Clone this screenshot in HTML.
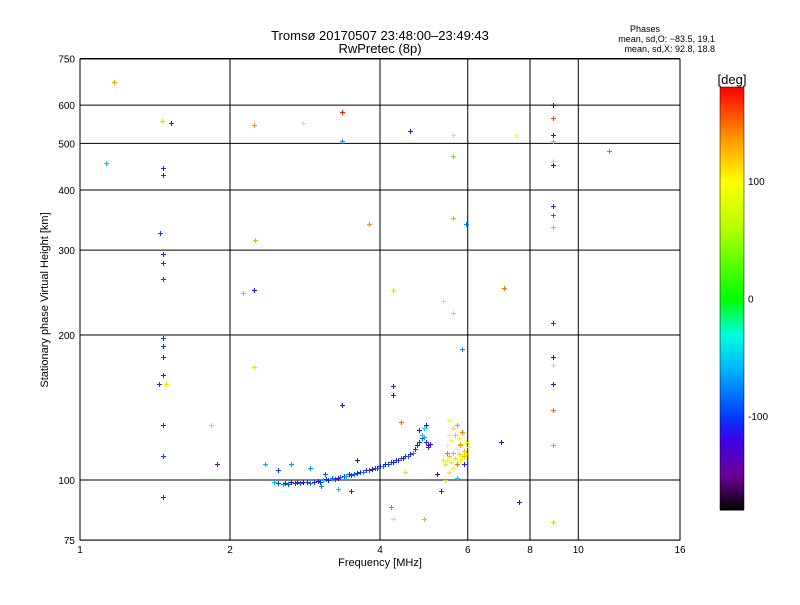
<!DOCTYPE html>
<html><head><meta charset="utf-8"><style>
body{margin:0;background:#fff;font-family:"Liberation Sans",sans-serif}
svg text{font-family:"Liberation Sans",sans-serif;fill:#000}
</style></head><body>
<svg id="chart" width="800" height="600" xmlns="http://www.w3.org/2000/svg">
<rect width="800" height="600" fill="#fff"/>
<text x="380" y="40" font-size="13" text-anchor="middle">Tromsø 20170507 23:48:00–23:49:43</text>
<text x="380" y="53" font-size="13" text-anchor="middle">RwPretec (8p)</text>
<text x="645" y="32" font-size="9" text-anchor="middle">Phases</text>
<text x="715" y="42" font-size="9" text-anchor="end">mean, sd,O: −83.5, 19.1</text>
<text x="715" y="52" font-size="9" text-anchor="end">mean, sd,X:  92.8, 18.8</text>
<text x="380" y="566" font-size="11" text-anchor="middle">Frequency [MHz]</text>
<text x="48" y="300" font-size="11" text-anchor="middle" transform="rotate(-90 48 300)">Stationary phase Virtual Height [km]</text>
<g id="grid"></g><g id="pts" shape-rendering="crispEdges"></g><g id="cbar"></g>
</svg>
<script>
const xTicks=[1,2,4,6,8,10,16];
const yTicks=[75,100,200,300,400,500,600,750];
const cTicks=[100,0,-100];
// [frequency MHz, height km, phase deg]
const freqs=[1.17,1.13,1.46,1.52,1.47,1.47,1.45,1.47,1.47,1.47,1.47,1.47,1.47,1.47,1.44,1.49,1.47,1.47,1.47,1.88,1.83,2.12,2.23,2.23,2.25,2.23,2.8,3.35,3.35,3.35,3.8,4.25,4.25,4.25,4.4,4.2,4.25,4.6,4.9,5.35,5.6,5.6,5.6,5.6,5.95,5.85,7.1,7.0,7.6,7.5,8.9,8.9,8.9,8.9,8.9,8.9,8.9,8.9,8.9,8.9,8.9,8.9,8.9,8.9,8.9,8.9,11.5,
2.45,2.5,2.55,2.58,2.62,2.65,2.7,2.72,2.76,2.8,2.85,2.9,2.95,3.0,3.03,3.08,3.12,3.15,3.2,3.25,3.3,3.33,3.38,3.42,3.46,3.5,3.55,3.6,3.64,3.7,3.75,3.8,3.85,3.9,3.95,4.0,4.05,4.1,4.15,4.2,4.25,4.3,4.35,4.4,4.45,4.5,4.55,4.6,4.65,4.7,4.75,4.8,4.85,4.9,4.95,5.0,4.9,4.95,5.0,4.85,4.8,5.05,2.35,2.5,2.65,3.05,3.3,3.5,3.1,2.9,3.6,4.5,
5.4,5.45,5.5,5.55,5.6,5.65,5.7,5.75,5.8,5.85,5.9,5.95,6.0,5.5,5.6,5.7,5.8,5.9,5.45,5.55,5.65,5.75,5.85,5.95,5.4,5.5,5.6,5.7,5.35,5.5,5.8,5.3,5.2,5.7,5.9,5.45];
const heights=[670,455,556,552,445,430,325,295,282,262,197,190,180,165,158,158,130,112,92,108,130,245,248,545,315,172,552,580,505,143,340,248,157,150,132,88,83,530,83,235,520,470,350,222,340,187,250,120,90,520,600,565,520,505,460,450,370,355,335,212,180,173,158,140,118,82,482,
99,98.5,98,98.5,98,99,98.5,99,98.5,99,99,98.5,99,99.5,99,100,100.5,100,101,100.5,101,101.5,102,102,103,102.5,103,103.5,104,104,105,105,105.5,106,106,107,107,108,108,109,109,110,110,111,111,112,112,113,114,116,118,120,122,123,120,117,128,130,118,124,127,119,108,105,108,97,96,95,103,106,110,104,
108,110,112,109,114,111,116,113,118,112,115,120,117,104,106,108,110,112,118,121,124,122,126,113,100,124,128,130,110,133,119,95,103,101,108,114];
const phases=[130,-50,60,-110,-110,-110,-100,-110,-100,-100,-100,-100,-100,-110,-100,110,-100,-100,-100,-150,120,130,-120,140,130,115,110,175,-70,-120,140,60,-110,-150,150,150,110,-110,130,80,110,30,130,50,-80,-70,150,-120,-150,100,-140,160,-110,130,110,-120,-100,170,130,-100,-150,60,-130,150,-40,120,-60,
-60,-100,-70,-110,-90,-120,-100,-110,-90,-130,-100,-80,-110,-120,-100,-60,-100,-110,-80,-100,-120,-90,-100,-70,-110,-100,-90,-120,-100,-80,-110,-100,-130,-90,-100,-110,-80,-120,-100,-90,-130,-100,-110,-80,-120,-100,-90,-110,-70,-100,-120,-100,-90,-60,-110,-100,-40,-120,-110,-50,-130,-140,-60,-100,-70,-80,-50,-110,-90,-70,-130,70,
110,100,120,105,130,110,95,115,140,100,120,105,90,110,100,150,105,125,100,90,120,100,145,110,120,95,110,140,105,100,130,-110,-120,-50,-110,150];
const X0=80,X1=680,Y0=59,Y1=540;
const xs=f=>X0+Math.log2(f)*150;
const ys=h=>480-Math.log2(h/100)*145;
const NS='http://www.w3.org/2000/svg';
function mk(t,a,p){const e=document.createElementNS(NS,t);for(const k in a)e.setAttribute(k,a[k]);p.appendChild(e);return e;}
const stops=[[-180,0,0,0],[-150,110,0,150],[-120,60,0,230],[-100,0,60,255],[-60,0,180,255],[-30,0,255,220],[0,0,255,0],[60,180,255,0],[100,255,255,0],[140,255,140,0],[180,255,0,0]];
function col(v){for(let i=1;i<stops.length;i++){if(v<=stops[i][0]){const a=stops[i-1],b=stops[i],t=(v-a[0])/(b[0]-a[0]);return `rgb(${[1,2,3].map(j=>Math.round(a[j]+(b[j]-a[j])*t)).join(',')})`;}}return 'rgb(255,0,0)';}
const g=document.getElementById('grid');
xTicks.forEach(t=>{const x=xs(t);
const l=mk('line',{x1:x,x2:x,y1:Y0,y2:Y1,stroke:'#000'},g);


const tx=mk('text',{x:x,y:553,'font-size':10,'text-anchor':'middle'},g);tx.textContent=t;

});
yTicks.forEach(t=>{const y=ys(t);
const l=mk('line',{x1:X0,x2:X1,y1:y,y2:y,stroke:'#000'},g);


const tx=mk('text',{x:75,y:y+4,'font-size':10,'text-anchor':'end'},g);tx.textContent=t;

});
const fr=mk('rect',{x:X0,y:Y0,width:X1-X0,height:Y1-Y0,fill:'none',stroke:'#000'},g);


const pg=document.getElementById('pts');
for(let i=0;i<freqs.length;i++){const x=Math.round(xs(freqs[i])),y=Math.round(ys(heights[i])),c=col(phases[i]);
const p=mk('g',{fill:c},pg);
mk('rect',{x:x-2,y:y,width:5,height:1},p);
mk('rect',{x:x,y:y-2,width:1,height:5},p);

}
const cb=document.getElementById('cbar');
const CT=87,CB=510,cy=v=>CT+(180-v)/360*(CB-CT);
for(let v=-180;v<180;v+=2){const r=mk('rect',{x:720,y:cy(v+2),width:24,height:(CB-CT)/180+0.5,fill:col(v+1)},cb);

}
const cf=mk('rect',{x:720,y:CT,width:24,height:CB-CT,fill:'none',stroke:'#000','stroke-width':0.5},cb);


cTicks.forEach(t=>{const y=cy(t);
const tx=mk('text',{x:748,y:y+4,'font-size':10},cb);tx.textContent=t;

});
const u=mk('text',{x:732,y:84,'font-size':13,'text-anchor':'middle'},cb);u.textContent='[deg]';


</script>
</body></html>
